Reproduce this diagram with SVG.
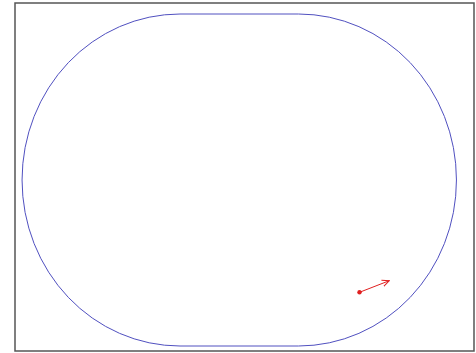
<svg xmlns="http://www.w3.org/2000/svg" width="476" height="353" viewBox="0 0 476 353">
<style>
.frame{fill:#ffffff;stroke:#555555;stroke-width:1.5}
.track{fill:none;stroke:#5050c0;stroke-width:1}
.vec{stroke:#e02020;stroke-width:1;fill:none}
</style>
<defs>
<marker id="ah" viewBox="0 0 10 10" refX="9" refY="5" markerWidth="8" markerHeight="8" orient="auto" markerUnits="userSpaceOnUse">
<path d="M0,1 L9,5 L0,9" fill="none" stroke="#e02020" stroke-width="1.2"/>
</marker>
</defs>
<rect class="frame" x="15" y="3" width="459" height="348"/>
<g id="track">
<path class="track" d="M180,14 L298.5,14 A158,166 0 0 1 298.5,346 L180,346 A158,166 0 0 1 180,14 Z"/>
</g>
<g id="connectors">
<line class="vec" x1="359.5" y1="292.3" x2="389.3" y2="280.7" marker-end="url(#ah)"/>
</g>
<g id="point">
<circle cx="359.5" cy="292.3" r="2.2" fill="#e02020"/>
</g>
</svg>
